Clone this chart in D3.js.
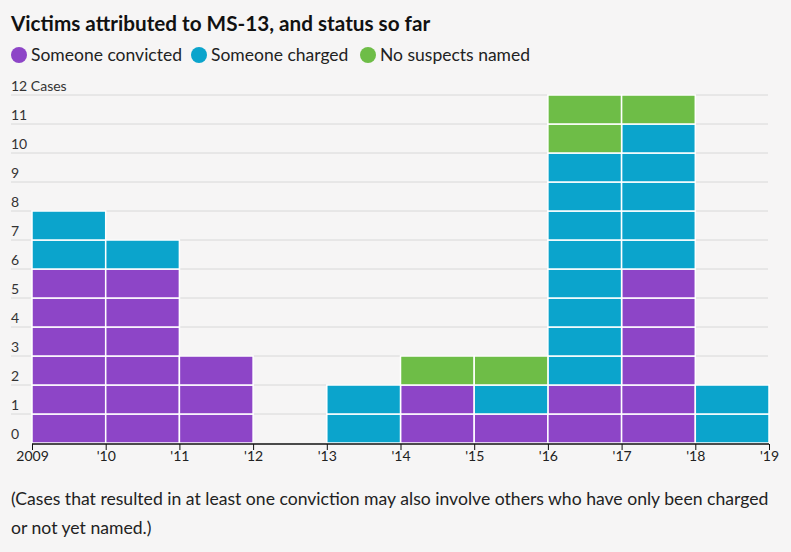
<!DOCTYPE html>
<html>
<head>
<meta charset="utf-8">
<script src="https://cdn.jsdelivr.net/npm/d3@7"></script>
<style>
  body { margin: 0; background: #f6f5f5; font-family: Lato, "Open Sans", sans-serif; }
</style>
</head>
<body>
<div id="chart"></div>
<script>
// data
var years = [2009, 2010, 2011, 2012, 2013, 2014, 2015, 2016, 2017, 2018];
var convicted = [6, 6, 3, 0, 0, 2, 1, 2, 6, 0];
var charged = [2, 1, 0, 0, 2, 0, 1, 8, 5, 2];
var noSuspects = [0, 0, 0, 0, 0, 1, 1, 2, 1, 0];
var seriesNames = ["Someone convicted", "Someone charged", "No suspects named"];
var tickYears = [2009, 2010, 2011, 2012, 2013, 2014, 2015, 2016, 2017, 2018, 2019];
var yTicks = [0, 1, 2, 3, 4, 5, 6, 7, 8, 9, 10, 11, 12];

var colour = d3.scaleOrdinal()
    .domain(["convicted", "charged", "none"])
    .range(["#8d45c7", "#0ba4cc", "#6ebd47"]);

var width = 791, height = 552;
var svg = d3.select("#chart").append("svg")
    .attr("width", width)
    .attr("height", height);

// title
svg.append("text")
    .attr("x", 11).attr("y", 31)
    .attr("font-size", 20.7).attr("font-weight", "bold").attr("fill", "#111")
    .text("Victims attributed to MS-13, and status so far");

// legend
var legendX = [19, 199, 368];
var keys = ["convicted", "charged", "none"];
var legend = svg.append("g").attr("class", "legend");
keys.forEach(function (k, i) {
    legend.append("circle")
        .attr("cx", legendX[i]).attr("cy", 55).attr("r", 8)
        .attr("fill", colour(k));
    legend.append("text")
        .attr("x", legendX[i] + 12).attr("y", 61)
        .attr("font-size", 17.5).attr("fill", "#222")
        .text(seriesNames[i]);
});

// scales
var x = d3.scaleLinear().domain([2009, 2019]).range([32, 769]);
var y = d3.scaleLinear().domain([0, 12]).range([443, 95]);

// gridlines + y labels
var grid = svg.append("g").attr("class", "grid");
grid.selectAll("line")
    .data(yTicks.slice(1))
    .enter().append("line")
    .attr("x1", 11).attr("x2", 768)
    .attr("y1", d => y(d)).attr("y2", d => y(d))
    .attr("stroke", "#d8d8d8").attr("stroke-width", 1);
grid.selectAll("text")
    .data(yTicks)
    .enter().append("text")
    .attr("x", 11).attr("y", d => y(d) - 4)
    .attr("font-size", 14).attr("fill", "#333")
    .text(d => d == 12 ? "12 Cases" : d);

// stack into unit cells
var table = years.map(function (yr, i) {
    return { year: yr, convicted: convicted[i], charged: charged[i], none: noSuspects[i] };
});
var stacked = d3.stack().keys(keys)(table);
var cells = [];
stacked.forEach(function (layer) {
    layer.forEach(function (d) {
        for (var k = d[0]; k < d[1]; k++) {
            cells.push({ key: layer.key, year: d.data.year, level: k });
        }
    });
});

svg.append("g").attr("class", "cells")
    .selectAll("rect")
    .data(cells)
    .enter().append("rect")
    .attr("x", d => x(d.year))
    .attr("width", d => x(d.year + 1) - x(d.year))
    .attr("y", d => y(d.level + 1))
    .attr("height", d => y(d.level) - y(d.level + 1))
    .attr("fill", d => colour(d.key))
    .attr("stroke", "#ffffff")
    .attr("stroke-width", 1.5);

// x axis
var xAxis = d3.axisBottom(x)
    .tickValues(tickYears)
    .tickSize(6)
    .tickFormat(d => d == 2009 ? "2009" : "'" + String(d).slice(2));

var axisG = svg.append("g")
    .attr("class", "axis")
    .attr("transform", "translate(0,444)")
    .call(xAxis);
axisG.select(".domain").attr("stroke", "#111").attr("stroke-width", 1.5).attr("d", "M32,0H769");
axisG.selectAll(".tick line").attr("stroke", "#111");
axisG.selectAll(".tick text")
    .attr("font-family", "Lato, sans-serif")
    .attr("font-size", 14).attr("fill", "#222").attr("dy", "0.55em");

// footnote
var foot = svg.append("text")
    .attr("x", 11).attr("font-size", 17.6).attr("fill", "#222");
foot.append("tspan").attr("x", 11).attr("y", 505)
    .text("(Cases that resulted in at least one conviction may also involve others who have only been charged");
foot.append("tspan").attr("x", 11).attr("y", 534)
    .text("or not yet named.)");
</script>
</body>
</html>
